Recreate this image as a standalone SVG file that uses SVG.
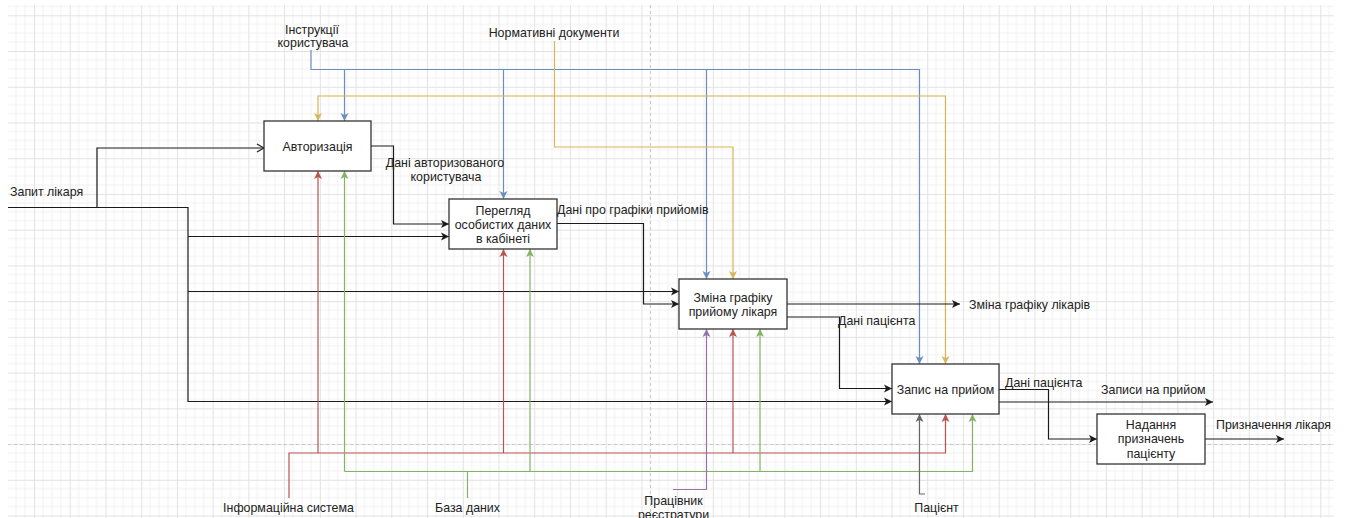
<svg xmlns="http://www.w3.org/2000/svg" width="1347" height="518" viewBox="0 0 1347 518">
  <defs>
    <pattern id="grid" patternUnits="userSpaceOnUse" x="34" y="15.3" width="35.73" height="35.73">
      <path d="M8.93,0 V35.73 M17.87,0 V35.73 M26.8,0 V35.73 M0,8.93 H35.73 M0,17.87 H35.73 M0,26.8 H35.73" stroke="#f1f1f1" stroke-width="1" fill="none"/>
      <path d="M0.5,0 V35.73 M0,0.5 H35.73" stroke="#e2e2e2" stroke-width="1" fill="none"/>
    </pattern>
    <marker id="a-black" markerUnits="userSpaceOnUse" viewBox="-1 -5 10 10" markerWidth="10" markerHeight="10" refX="8" refY="0" orient="auto">
      <path d="M0,-4 L8,0 L0,4 L2,0 Z" fill="#1a1a1a"/>
    </marker>
    <marker id="a-open" markerUnits="userSpaceOnUse" viewBox="-1 -5 10 10" markerWidth="10" markerHeight="10" refX="8" refY="0" orient="auto">
      <path d="M1,-4 L8,0 L1,4" fill="none" stroke="#1a1a1a" stroke-width="1.2"/>
    </marker>
    <marker id="a-blue" markerUnits="userSpaceOnUse" viewBox="-1 -5 10 10" markerWidth="10" markerHeight="10" refX="8" refY="0" orient="auto">
      <path d="M0,-4 L8,0 L0,4 L2,0 Z" fill="#6c8ebf"/>
    </marker>
    <marker id="a-yellow" markerUnits="userSpaceOnUse" viewBox="-1 -5 10 10" markerWidth="10" markerHeight="10" refX="8" refY="0" orient="auto">
      <path d="M0,-4 L8,0 L0,4 L2,0 Z" fill="#d6b656"/>
    </marker>
    <marker id="a-red" markerUnits="userSpaceOnUse" viewBox="-1 -5 10 10" markerWidth="10" markerHeight="10" refX="8" refY="0" orient="auto">
      <path d="M0,-4 L8,0 L0,4 L2,0 Z" fill="#b85450"/>
    </marker>
    <marker id="a-green" markerUnits="userSpaceOnUse" viewBox="-1 -5 10 10" markerWidth="10" markerHeight="10" refX="8" refY="0" orient="auto">
      <path d="M0,-4 L8,0 L0,4 L2,0 Z" fill="#82b366"/>
    </marker>
    <marker id="a-purple" markerUnits="userSpaceOnUse" viewBox="-1 -5 10 10" markerWidth="10" markerHeight="10" refX="8" refY="0" orient="auto">
      <path d="M0,-4 L8,0 L0,4 L2,0 Z" fill="#9673a6"/>
    </marker>
    <marker id="a-gray" markerUnits="userSpaceOnUse" viewBox="-1 -5 10 10" markerWidth="10" markerHeight="10" refX="8" refY="0" orient="auto">
      <path d="M0,-4 L8,0 L0,4 L2,0 Z" fill="#666666"/>
    </marker>
  </defs>
  <style>
    text { font-family: "Liberation Sans", Arial, Helvetica, sans-serif; font-size: 12.4px; fill: #222; }
    .c { text-anchor: middle; }
    .box rect { fill: #fff; stroke: #333; stroke-width: 1.3; }
    .ln { fill: none; stroke-width: 1.2; }
    .k { stroke: #1a1a1a; }
    .b { stroke: #6c8ebf; }
    .y { stroke: #d6b656; }
    .r { stroke: #b85450; }
    .g { stroke: #82b366; }
    .p { stroke: #9673a6; }
    .n { stroke: #666666; }
    .pg { stroke: #c8c8c8; stroke-width: 1; stroke-dasharray: 3 3; fill: none; }
  </style>

  <!-- canvas background and grid -->
  <rect x="0" y="0" width="1347" height="518" fill="#fff"/>
  <rect x="8" y="5" width="1326" height="513" fill="url(#grid)"/>
  <path class="pg" d="M650.5,5 V518 M8,444.5 H1334"/>

  <g id="connectors">
    <!-- Інструкції користувача -->
    <path class="ln b" d="M311,50 V69.5 H919.5 V364" marker-end="url(#a-blue)"/>
    <path class="ln b" d="M344.5,69.5 V121" marker-end="url(#a-blue)"/>
    <path class="ln b" d="M503.5,69.5 V199" marker-end="url(#a-blue)"/>
    <path class="ln b" d="M706.5,69.5 V279" marker-end="url(#a-blue)"/>

    <!-- Нормативні документи -->
    <path class="ln y" d="M554.5,41 V147 H733 V279" marker-end="url(#a-yellow)"/>
    <path class="ln y" d="M554.5,96 H318 V121" marker-end="url(#a-yellow)"/>
    <path class="ln y" d="M554.5,96 H945.5 V364" marker-end="url(#a-yellow)"/>

    <!-- Запит лікаря -->
    <path class="ln k" d="M8,207.5 H188 V401.5 H892" marker-end="url(#a-black)"/>
    <path class="ln k" d="M97,207.5 V148 H264" marker-end="url(#a-open)"/>
    <path class="ln k" d="M188,236.5 H449" marker-end="url(#a-black)"/>
    <path class="ln k" d="M188,291.5 H679" marker-end="url(#a-black)"/>

    <!-- outputs -->
    <path class="ln k" d="M371,146 H393.5 V224 H449" marker-end="url(#a-black)"/>
    <path class="ln k" d="M557,223.5 H643.5 V304 H679" marker-end="url(#a-black)"/>
    <path class="ln k" d="M787,304 H960" marker-end="url(#a-black)"/>
    <path class="ln k" d="M787,317 H839.5 V388.5 H892" marker-end="url(#a-black)"/>
    <path class="ln k" d="M999,389.5 H1048.5 V439 H1097" marker-end="url(#a-black)"/>
    <path class="ln k" d="M999,402 H1213" marker-end="url(#a-black)"/>
    <path class="ln k" d="M1205,439 H1284" marker-end="url(#a-black)"/>

    <!-- Інформаційна система -->
    <path class="ln r" d="M289,498 V453 H945.5 V414" marker-end="url(#a-red)"/>
    <path class="ln r" d="M318,453 V171" marker-end="url(#a-red)"/>
    <path class="ln r" d="M503.5,453 V249" marker-end="url(#a-red)"/>
    <path class="ln r" d="M733,453 V329" marker-end="url(#a-red)"/>

    <!-- База даних -->
    <path class="ln g" d="M467.5,498 V471.5"/>
    <path class="ln g" d="M344.5,471.5 H972.5 V414" marker-end="url(#a-green)"/>
    <path class="ln g" d="M344.5,471.5 V171" marker-end="url(#a-green)"/>
    <path class="ln g" d="M530,471.5 V249" marker-end="url(#a-green)"/>
    <path class="ln g" d="M760,471.5 V329" marker-end="url(#a-green)"/>

    <!-- Працівник реєстратури -->
    <path class="ln p" d="M673,489.5 H706.5 V329" marker-end="url(#a-purple)"/>

    <!-- Пацієнт -->
    <path class="ln n" d="M925,494 H919.5 V414" marker-end="url(#a-gray)"/>
  </g>

  <g id="node-auth" class="box">
    <rect x="264" y="121" width="107" height="50"/>
    <text class="c" x="317.5" y="150.5">Авторизація</text>
  </g>
  <g id="node-view" class="box">
    <rect x="449" y="199" width="108" height="50"/>
    <text class="c" x="503" y="215">Перегляд</text>
    <text class="c" x="503" y="229">особистих даних</text>
    <text class="c" x="503" y="243">в кабінеті</text>
  </g>
  <g id="node-schedule" class="box">
    <rect x="679" y="279" width="108" height="50"/>
    <text class="c" x="733" y="301.5">Зміна графіку</text>
    <text class="c" x="733" y="315.5">прийому лікаря</text>
  </g>
  <g id="node-booking" class="box">
    <rect x="892" y="364" width="107" height="50"/>
    <text class="c" x="945.5" y="393.5">Запис на прийом</text>
  </g>
  <g id="node-assign" class="box">
    <rect x="1097" y="414" width="108" height="50"/>
    <text class="c" x="1151" y="428.5">Надання</text>
    <text class="c" x="1151" y="443">призначень</text>
    <text class="c" x="1151" y="457.5">пацієнту</text>
  </g>

  <g id="labels">
    <text class="c" x="312" y="33.5">Інструкції</text>
    <text class="c" x="313" y="47">користувача</text>
    <text class="c" x="554" y="36.5">Нормативні документи</text>
    <text x="10" y="195.5">Запит лікаря</text>
    <text class="c" x="445" y="166.5">Дані авторизованого</text>
    <text class="c" x="446" y="180.5">користувача</text>
    <text x="557" y="213.5">Дані про графіки прийомів</text>
    <text x="969" y="308.5">Зміна графіку лікарів</text>
    <text x="838" y="324.5">Дані пацієнта</text>
    <text x="1005" y="386.5">Дані пацієнта</text>
    <text x="1101" y="393.5">Записи на прийом</text>
    <text x="1216" y="428.5">Призначення лікаря</text>
    <text class="c" x="288.5" y="511.5">Інформаційна система</text>
    <text class="c" x="467.5" y="511.5">База даних</text>
    <text class="c" x="673.5" y="505">Працівник</text>
    <text class="c" x="673.5" y="519">реєстратури</text>
    <text class="c" x="936.5" y="511.5">Пацієнт</text>
  </g>
</svg>
